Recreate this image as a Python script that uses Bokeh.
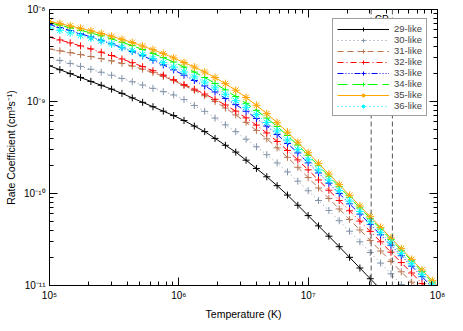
import numpy as np
from bokeh.plotting import figure
from bokeh.models import (FixedTicker, LogAxis, CustomJSTickFormatter, Legend,
                          LegendItem, Span, Label, ColumnDataSource)
from bokeh.embed import file_html
from bokeh.resources import INLINE

# ---------------- data (log10 values) ----------------
log_T = [5.00, 5.08, 5.16, 5.24, 5.32, 5.40, 5.48, 5.56, 5.64, 5.72, 5.80, 5.88,
         5.96, 6.04, 6.12, 6.20, 6.28, 6.36, 6.44, 6.52, 6.60, 6.68, 6.76, 6.84,
         6.92, 7.00, 7.08, 7.16, 7.24, 7.32, 7.40, 7.48, 7.56, 7.64, 7.72, 7.80,
         7.88, 7.96, 8.04]

log_rate_29 = [-8.612, -8.654, -8.697, -8.739, -8.782, -8.824, -8.866, -8.912, -8.961,
               -9.009, -9.057, -9.105, -9.153, -9.207, -9.267, -9.327, -9.401, -9.476,
               -9.550, -9.638, -9.728, -9.818, -9.915, -10.017, -10.128, -10.240,
               -10.352, -10.464, -10.578, -10.694, -10.810, -10.926, -11.042, -11.158,
               -11.274, -11.390, -11.506, -11.622, -11.738]
log_rate_30 = [-8.522, -8.554, -8.586, -8.618, -8.650, -8.682, -8.714, -8.749, -8.785,
               -8.821, -8.857, -8.893, -8.929, -8.979, -9.043, -9.107, -9.180, -9.254,
               -9.328, -9.410, -9.492, -9.578, -9.668, -9.765, -9.866, -9.970,
               -10.076, -10.184, -10.296, -10.410, -10.525, -10.641, -10.757, -10.873,
               -10.989, -11.105, -11.221, -11.337, -11.453]
log_rate_31 = [-8.430, -8.449, -8.469, -8.490, -8.511, -8.534, -8.558, -8.585, -8.615,
               -8.649, -8.686, -8.727, -8.773, -8.826, -8.879, -8.937, -9.001, -9.071,
               -9.146, -9.227, -9.314, -9.406, -9.504, -9.607, -9.715, -9.827,
               -9.940, -10.054, -10.168, -10.282, -10.396, -10.510, -10.625, -10.738,
               -10.851, -10.964, -11.078, -11.192, -11.306]
log_rate_32 = [-8.300, -8.331, -8.363, -8.396, -8.429, -8.464, -8.500, -8.538, -8.578,
               -8.621, -8.666, -8.713, -8.763, -8.816, -8.866, -8.919, -8.976, -9.038,
               -9.105, -9.178, -9.257, -9.342, -9.434, -9.532, -9.635, -9.743,
               -9.853, -9.964, -10.076, -10.188, -10.300, -10.412, -10.525, -10.638,
               -10.751, -10.864, -10.978, -11.092, -11.206]
log_rate_33 = [-8.165, -8.196, -8.229, -8.263, -8.298, -8.335, -8.373, -8.414, -8.457,
               -8.503, -8.551, -8.602, -8.656, -8.714, -8.771, -8.831, -8.896, -8.966,
               -9.034, -9.106, -9.184, -9.268, -9.359, -9.456, -9.559, -9.667,
               -9.777, -9.888, -10.000, -10.112, -10.224, -10.336, -10.449, -10.562,
               -10.676, -10.790, -10.904, -11.019, -11.134]
log_rate_34 = [-8.145, -8.171, -8.198, -8.226, -8.255, -8.286, -8.319, -8.355, -8.393,
               -8.434, -8.477, -8.523, -8.571, -8.625, -8.680, -8.739, -8.804, -8.874,
               -8.946, -9.020, -9.096, -9.180, -9.272, -9.370, -9.474, -9.585,
               -9.698, -9.812, -9.926, -10.041, -10.156, -10.271, -10.386, -10.501,
               -10.617, -10.732, -10.848, -10.963, -11.079]
log_rate_35 = [-8.130, -8.154, -8.179, -8.205, -8.232, -8.261, -8.291, -8.324, -8.359,
               -8.397, -8.437, -8.480, -8.526, -8.576, -8.626, -8.680, -8.740, -8.806,
               -8.878, -8.956, -9.041, -9.132, -9.230, -9.334, -9.443, -9.557,
               -9.672, -9.788, -9.904, -10.020, -10.136, -10.252, -10.368, -10.484,
               -10.600, -10.716, -10.832, -10.948, -11.064]
log_rate_36 = [-8.200, -8.226, -8.253, -8.281, -8.310, -8.341, -8.374, -8.410, -8.448,
               -8.489, -8.532, -8.578, -8.626, -8.679, -8.732, -8.789, -8.852, -8.921,
               -8.991, -9.064, -9.143, -9.228, -9.320, -9.419, -9.523, -9.633,
               -9.744, -9.856, -9.969, -10.082, -10.195, -10.308, -10.422, -10.536,
               -10.650, -10.764, -10.879, -10.994, -11.109]

series_labels = ["29-like", "30-like", "31-like", "32-like",
                 "33-like", "34-like", "35-like", "36-like"]
series_logs = [log_rate_29, log_rate_30, log_rate_31, log_rate_32,
               log_rate_33, log_rate_34, log_rate_35, log_rate_36]

cp_T = [3.07e7, 4.48e7]          # vertical dashed markers
cp_label = "CP"

x_ticks = [1e5, 1e6, 1e7, 1e8]
y_ticks = [1e-11, 1e-10, 1e-9, 1e-8]

# ---------------- styles ----------------
colors = ["#000000", "#8393a8", "#b8734f", "#ff0000",
          "#0000ff", "#00ff00", "#ffa500", "#00ffff"]
dashes = ["solid", "1 3", "6 4", "6 3 1 3",
          "6 2 1 2 1 2 1 2", "10 5", "solid", "1 3"]
markers = ["cross"] * 6 + ["asterisk", "asterisk"]
sizes = [7] * 6 + [8, 8]

FONT = "Liberation Sans"

p = figure(x_axis_type="log", y_axis_type="log",
           x_range=(1e5, 1e8), y_range=(1e-11, 1e-8),
           frame_width=388, frame_height=276,
           min_border_left=49, min_border_right=10,
           min_border_top=9, min_border_bottom=30,
           output_backend="svg", toolbar_location=None)
p.xgrid.visible = False
p.ygrid.visible = False
p.outline_line_color = "black"
p.background_fill_color = "white"
p.border_fill_color = "white"

x_minor = [m * 10.0 ** e for e in range(5, 8) for m in range(2, 10)]
y_minor = [m * 10.0 ** e for e in range(-11, -8) for m in range(2, 10)]

sup_code = """
const sup = {'-':'\u207b','0':'\u2070','1':'\u00b9','2':'\u00b2','3':'\u00b3',
             '4':'\u2074','5':'\u2075','6':'\u2076','7':'\u2077','8':'\u2078','9':'\u2079'};
const e = Math.round(Math.log10(tick));
return '10' + String(e).split('').map(c => sup[c]).join('');
"""

def style_axis(ax, ticks, minor, labelled=True):
    ax.ticker = FixedTicker(ticks=ticks, minor_ticks=minor)
    ax.major_tick_in = 8
    ax.major_tick_out = 0
    ax.minor_tick_in = 4
    ax.minor_tick_out = 0
    ax.axis_line_color = "black"
    ax.major_tick_line_color = "black"
    ax.minor_tick_line_color = "black"
    if labelled:
        ax.formatter = CustomJSTickFormatter(code=sup_code)
        ax.major_label_text_font = FONT
        ax.major_label_text_font_size = "10px"
        ax.major_label_text_color = "black"
        ax.major_label_standoff = 4
        ax.axis_label_text_font = FONT
        ax.axis_label_text_font_size = "10.5px"
        ax.axis_label_text_font_style = "normal"
        ax.axis_label_text_color = "black"
        ax.axis_label_standoff = 4
    else:
        ax.formatter = CustomJSTickFormatter(code="return ''")
        ax.major_label_text_font_size = "0px"
        ax.major_label_standoff = 0

style_axis(p.xaxis[0], x_ticks, x_minor)
style_axis(p.yaxis[0], y_ticks, y_minor)
p.xaxis[0].axis_label = "Temperature (K)"
p.yaxis[0].axis_label = "Rate Coefficient (cm\u00b3s\u207b\u00b9)"

top_ax = LogAxis()
style_axis(top_ax, x_ticks, x_minor, labelled=False)
p.add_layout(top_ax, "above")
right_ax = LogAxis()
style_axis(right_ax, y_ticks, y_minor, labelled=False)
p.add_layout(right_ax, "right")

T = np.power(10.0, np.array(log_T))
items = []
for lab, lg, col, dash, mk, sz in zip(series_labels, series_logs, colors, dashes,
                                      markers, sizes):
    src = ColumnDataSource(dict(T=T, rate=np.power(10.0, np.array(lg))))
    lr = p.line("T", "rate", source=src, line_color=col, line_width=1, line_dash=dash)
    sr = p.scatter("T", "rate", source=src, marker=mk, size=sz,
                   line_color=col, line_width=1)
    items.append(LegendItem(label=lab, renderers=[lr, sr]))

for t in cp_T:
    p.add_layout(Span(location=t, dimension="height", line_color="#555555",
                      line_dash="5 3", line_width=1))

p.add_layout(Label(x=(cp_T[0] * cp_T[1]) ** 0.5, y=7.8e-9, text=cp_label,
                   text_align="center", text_baseline="middle",
                   text_font=FONT, text_font_size="10px", text_color="black"))

legend = Legend(items=items, location=(283, 169),
                glyph_width=52, glyph_height=10, label_height=10,
                label_text_font=FONT, label_text_font_size="9.5px",
                label_standoff=5, spacing=0, padding=4, margin=0,
                border_line_color="#404040", border_line_width=1,
                background_fill_color="white", background_fill_alpha=1.0)
p.add_layout(legend)

open("out.html", "w").write(file_html(p, INLINE))
